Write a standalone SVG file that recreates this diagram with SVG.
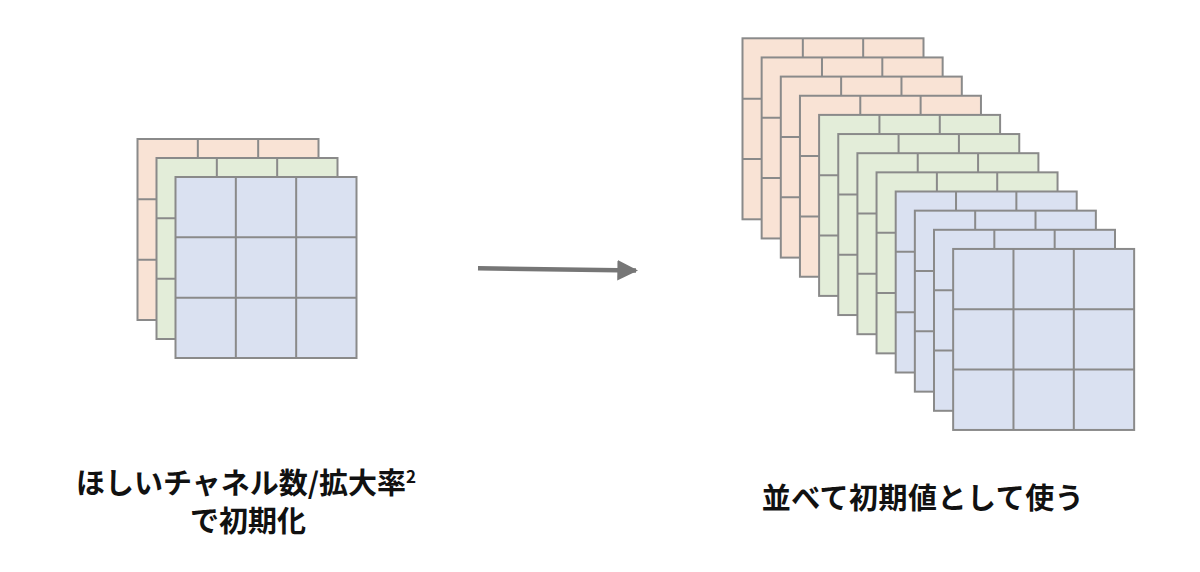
<svg xmlns="http://www.w3.org/2000/svg" xmlns:xlink="http://www.w3.org/1999/xlink" width="1200" height="572" viewBox="0 0 1200 572">
  <style>
    .cell { stroke: #8a8a8a; stroke-width: 2; }
    .o { fill: #F9E3D5; }
    .g { fill: #E3EDD9; }
    .b { fill: #DAE1F1; }
    .lbl { font-family: "Noto Sans CJK JP", "Noto Sans", sans-serif; font-size: 29px; font-weight: bold; fill: #111; text-anchor: middle; }
  </style>
  <defs>
    <g id="grid">
      <rect x="0" y="0" width="181" height="181" class="cell" style="fill:inherit"/>
      <path d="M60.33 0V181M120.67 0V181M0 60.33H181M0 120.67H181" class="cell" fill="none"/>
    </g>
    <marker id="ah" viewBox="0 0 10 10" refX="9" refY="5" markerWidth="4.6" markerHeight="4.6" orient="auto" markerUnits="strokeWidth">
      <path d="M0 0L10 5L0 10Z" fill="#767676"/>
    </marker>
  </defs>

  <!-- left stack -->
  <g id="left-orange"><use xlink:href="#grid" class="o" x="137.5" y="139"/></g>
  <g id="left-green"><use xlink:href="#grid" class="g" x="156.5" y="158"/></g>
  <g id="left-blue"><use xlink:href="#grid" class="b" x="175.5" y="177"/></g>

  <!-- right stack -->
  <g id="r-o1"><use xlink:href="#grid" class="o" x="742.5" y="38.3"/></g>
  <g id="r-o2"><use xlink:href="#grid" class="o" x="761.65" y="57.45"/></g>
  <g id="r-o3"><use xlink:href="#grid" class="o" x="780.8" y="76.6"/></g>
  <g id="r-o4"><use xlink:href="#grid" class="o" x="799.95" y="95.75"/></g>
  <g id="r-g1"><use xlink:href="#grid" class="g" x="819.1" y="114.9"/></g>
  <g id="r-g2"><use xlink:href="#grid" class="g" x="838.25" y="134.05"/></g>
  <g id="r-g3"><use xlink:href="#grid" class="g" x="857.4" y="153.2"/></g>
  <g id="r-g4"><use xlink:href="#grid" class="g" x="876.55" y="172.35"/></g>
  <g id="r-b1"><use xlink:href="#grid" class="b" x="895.7" y="191.5"/></g>
  <g id="r-b2"><use xlink:href="#grid" class="b" x="914.85" y="210.65"/></g>
  <g id="r-b3"><use xlink:href="#grid" class="b" x="934" y="229.8"/></g>
  <g id="r-b4"><use xlink:href="#grid" class="b" x="953.15" y="248.95"/></g>

  <!-- connectors -->
  <g id="connectors">
    <line x1="478" y1="268.3" x2="636" y2="270.5" stroke="#767676" stroke-width="4.5" marker-end="url(#ah)"/>
  </g>

  <!-- labels -->
  <g id="label-left">
    <text class="lbl" x="246" y="494">ほしいチャネル数/拡大率<tspan font-size="17" dy="-11">2</tspan></text>
    <text class="lbl" x="248" y="532">で初期化</text>
  </g>
  <g id="label-right">
    <text class="lbl" x="923" y="509" letter-spacing="0.5">並べて初期値として使う</text>
  </g>
</svg>
